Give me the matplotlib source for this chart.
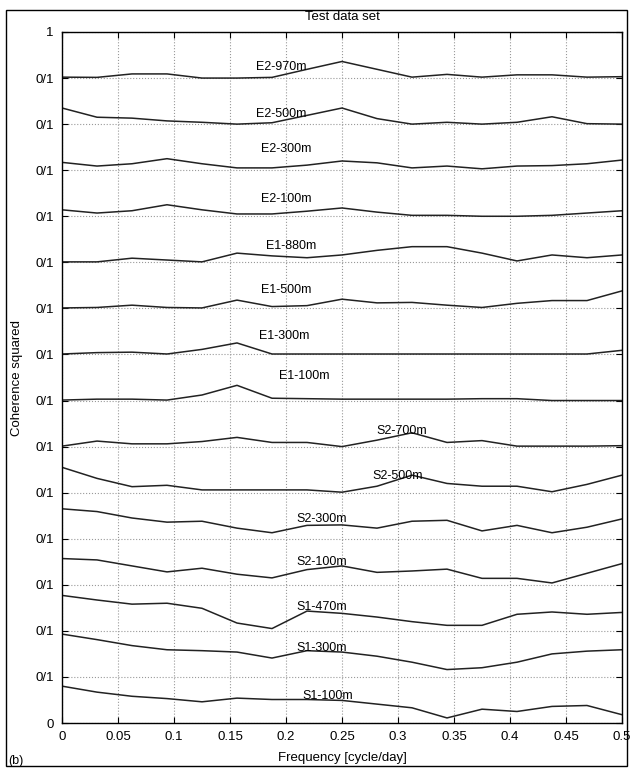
import matplotlib
matplotlib.use("Agg")
import matplotlib.pyplot as plt
from matplotlib.patches import Rectangle

plt.rcParams['font.family'] = ['Liberation Sans', 'DejaVu Sans']

# frequencies (cycle/day), step 1/32
freq = [k / 32 for k in range(17)]

# coherence squared per station, top band first
names = ["E2-970m", "E2-500m", "E2-300m", "E2-100m",
         "E1-880m", "E1-500m", "E1-300m", "E1-100m",
         "S2-700m", "S2-500m", "S2-300m", "S2-100m",
         "S1-470m", "S1-300m", "S1-100m"]

coh = {
    "E2-970m": [0.02, 0.015, 0.09, 0.09, 0.0, 0.0, 0.015, 0.19, 0.36, 0.19, 0.02, 0.08, 0.02, 0.07, 0.07, 0.02, 0.03],
    "E2-500m": [0.35, 0.15, 0.13, 0.07, 0.04, 0.0, 0.03, 0.19, 0.35, 0.12, 0.0, 0.04, 0.0, 0.04, 0.16, 0.01, 0.0],
    "E2-300m": [0.17, 0.09, 0.14, 0.25, 0.14, 0.05, 0.05, 0.11, 0.2, 0.16, 0.05, 0.09, 0.03, 0.09, 0.1, 0.14, 0.22],
    "E2-100m": [0.14, 0.07, 0.12, 0.25, 0.14, 0.05, 0.05, 0.11, 0.18, 0.09, 0.02, 0.02, 0.0, 0.0, 0.02, 0.07, 0.12],
    "E1-880m": [0.01, 0.01, 0.09, 0.05, 0.01, 0.2, 0.14, 0.1, 0.16, 0.26, 0.34, 0.34, 0.2, 0.03, 0.16, 0.1, 0.16],
    "E1-500m": [0.01, 0.02, 0.07, 0.02, 0.01, 0.18, 0.04, 0.06, 0.2, 0.12, 0.13, 0.07, 0.02, 0.11, 0.17, 0.17, 0.38],
    "E1-300m": [0.01, 0.04, 0.05, 0.01, 0.11, 0.25, 0.01, 0.01, 0.01, 0.01, 0.01, 0.01, 0.01, 0.01, 0.01, 0.01, 0.09],
    "E1-100m": [0.01, 0.03, 0.03, 0.01, 0.12, 0.33, 0.05, 0.04, 0.03, 0.03, 0.03, 0.03, 0.04, 0.04, 0.0, 0.0, 0.0],
    "S2-700m": [0.01, 0.12, 0.06, 0.06, 0.11, 0.2, 0.09, 0.09, 0.0, 0.14, 0.3, 0.09, 0.13, 0.01, 0.01, 0.01, 0.02],
    "S2-500m": [0.55, 0.31, 0.13, 0.16, 0.06, 0.06, 0.06, 0.06, 0.01, 0.14, 0.38, 0.2, 0.14, 0.14, 0.02, 0.18, 0.38],
    "S2-300m": [0.65, 0.59, 0.45, 0.36, 0.38, 0.23, 0.13, 0.29, 0.3, 0.23, 0.38, 0.4, 0.17, 0.29, 0.13, 0.25, 0.43],
    "S2-100m": [0.57, 0.54, 0.41, 0.28, 0.36, 0.23, 0.15, 0.33, 0.41, 0.27, 0.3, 0.34, 0.14, 0.14, 0.04, 0.25, 0.46],
    "S1-470m": [0.77, 0.67, 0.58, 0.6, 0.49, 0.17, 0.05, 0.43, 0.38, 0.3, 0.2, 0.12, 0.12, 0.36, 0.41, 0.36, 0.4],
    "S1-300m": [0.93, 0.81, 0.68, 0.59, 0.57, 0.54, 0.41, 0.57, 0.54, 0.45, 0.32, 0.16, 0.2, 0.32, 0.5, 0.56, 0.59],
    "S1-100m": [0.8, 0.67, 0.58, 0.53, 0.46, 0.54, 0.51, 0.51, 0.49, 0.41, 0.33, 0.11, 0.3, 0.25, 0.36, 0.38, 0.18],
}

# label anchor (frequency, height in band)
label_x = [0.196, 0.196, 0.2, 0.2, 0.205, 0.2, 0.198, 0.216, 0.303, 0.3,
           0.232, 0.232, 0.232, 0.232, 0.237]
label_y = [0.24, 0.22, 0.45, 0.37, 0.35, 0.4, 0.4, 0.54, 0.33, 0.36,
           0.43, 0.49, 0.51, 0.62, 0.58]

ytick_labels = ["0"] + ["0/1"] * 14 + ["1"]
xticks = [0, 0.05, 0.1, 0.15, 0.2, 0.25, 0.3, 0.35, 0.4, 0.45, 0.5]

fig = plt.figure(figsize=(6.33, 7.72), dpi=100)
ax = fig.add_axes([62 / 633, 49 / 772, 560 / 633, 691 / 772])

n = len(names)
for i, name in enumerate(names):
    base = n - 1 - i
    ax.plot(freq, [base + v for v in coh[name]], color="#222222", lw=1.1)
    ax.text(label_x[i], base + label_y[i], name, ha="center", va="center",
            fontsize=9)

ax.set_xlim(0, 0.5)
ax.set_ylim(0, n)
ax.set_xticks(xticks)
ax.set_xticklabels([f"{t:g}" for t in xticks])
ax.set_yticks(range(n + 1))
ax.set_yticklabels(ytick_labels)
ax.tick_params(direction="in", top=True, right=True, labelsize=9.5,
               length=4, pad=6)
ax.grid(True, linestyle=":", color="#999999", lw=0.8)
for s in ax.spines.values():
    s.set_linewidth(1.0)
ax.set_xlabel("Frequency [cycle/day]", fontsize=9.5, labelpad=6)
ax.set_ylabel("Coherence squared", fontsize=9.5)
ax.yaxis.set_label_coords(-0.07, 0.5)

fig.text(342 / 633, 1 - 17 / 772, "Test data set", ha="center", va="center",
         fontsize=9.5)
fig.text(8 / 633, 1 - 761 / 772, "(b)", ha="left", va="center", fontsize=9)
fig.patches.append(Rectangle((6 / 633, 6 / 772), 621 / 633, 756 / 772,
                             transform=fig.transFigure, fill=False,
                             edgecolor="black", lw=1.0))

fig.savefig("out.png", dpi=100)
